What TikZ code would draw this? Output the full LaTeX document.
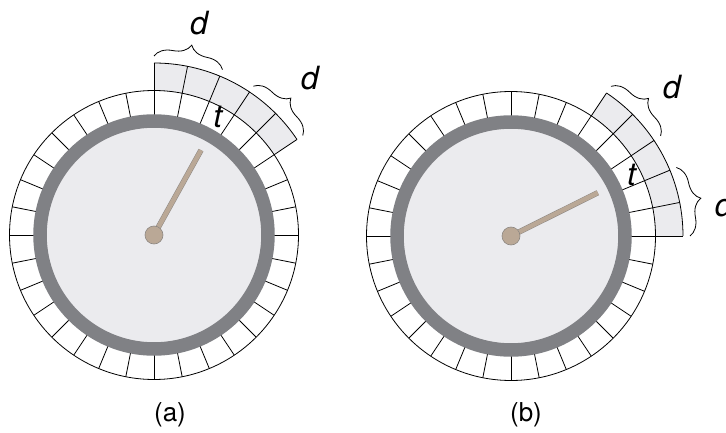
\documentclass[tikz,border=0pt]{standalone}
\usepackage{fontspec}
\setmainfont{TeX Gyre Heros}
\usetikzlibrary{decorations.pathreplacing}
\definecolor{facegray}{RGB}{235,235,238}
\definecolor{rimgray}{RGB}{128,129,133}
\definecolor{needletan}{RGB}{186,168,150}
\definecolor{needleedge}{RGB}{140,135,130}
\tikzset{
  cellline/.style={black, line width=0.8pt},
  rim/.style={rimgray, line width=13.5pt},
  needle/.style={draw=needleedge, line width=0.5pt, double=needletan, double distance=4.5pt},
  hub/.style={circle, fill=needletan, draw=needleedge, line width=0.6pt, minimum size=18pt, inner sep=0pt},
  bracebrace/.style={decorate, decoration={brace, amplitude=18pt}, line width=0.8pt},
  dlabel/.style={font=\fontsize{32}{36}\selectfont\itshape, inner sep=0pt},
  tlabel/.style={font=\fontsize{32}{36}\selectfont\itshape, inner sep=0pt},
  caption/.style={font=\fontsize{26}{30}\selectfont, inner sep=0pt}
}
\begin{document}
\begin{tikzpicture}[x=1pt, y=1pt]
  \useasboundingbox (0,0) rectangle (726,432);
  % dial (a)
  \begin{scope}[shift={(154,197)}]
    \fill[facegray] (0,0) circle (114);
    \fill[facegray] (90:144.5) arc (90:33.75:144.5) -- (33.75:172) arc (33.75:90:172) -- cycle;
    \foreach \i in {0,...,31}
      \draw[cellline] (\i*11.25:120) -- (\i*11.25:144.5);
    \foreach \i in {3,...,8}
      \draw[cellline] (\i*11.25:144.5) -- (\i*11.25:172);
    \draw[cellline] (0,0) circle (144.5);
    \draw[cellline] (90:172) arc (90:33.75:172);
    \draw[rim] (0,0) circle (114);
    \coordinate (centerA) at (0,0);
    \coordinate (tipA) at (61:97);
    \draw[needle] (centerA) -- (tipA);
    \node[hub] (hubA) at (centerA) {};
    \coordinate (braceA1s) at (90:179);
    \coordinate (braceA1e) at (67.5:179);
    \coordinate (braceA2s) at (56.25:179);
    \coordinate (braceA2e) at (33.75:179);
    \draw[bracebrace] (braceA1s) -- (braceA1e);
    \draw[bracebrace] (braceA2s) -- (braceA2e);
    \node[dlabel] (dA1) at (78:217) {d};
    \node[dlabel] (dA2) at (45.2:221) {d};
    \node[tlabel] (tA) at (61.5:134) {t};
  \end{scope}
  % dial (b)
  \begin{scope}[shift={(511,196)}]
    \fill[facegray] (0,0) circle (114);
    \fill[facegray] (56.25:144.5) arc (56.25:0:144.5) -- (0:172) arc (0:56.25:172) -- cycle;
    \foreach \i in {0,...,31}
      \draw[cellline] (\i*11.25:120) -- (\i*11.25:144.5);
    \foreach \i in {0,...,5}
      \draw[cellline] (\i*11.25:144.5) -- (\i*11.25:172);
    \draw[cellline] (0,0) circle (144.5);
    \draw[cellline] (56.25:172) arc (56.25:0:172);
    \draw[rim] (0,0) circle (114);
    \coordinate (centerB) at (0,0);
    \coordinate (tipB) at (26.5:97);
    \draw[needle] (centerB) -- (tipB);
    \node[hub] (hubB) at (centerB) {};
    \coordinate (braceB1s) at (56.25:180);
    \coordinate (braceB1e) at (33.75:180);
    \coordinate (braceB2s) at (22.5:179);
    \coordinate (braceB2e) at (0:179);
    \draw[bracebrace] (braceB1s) -- (braceB1e);
    \draw[bracebrace] (braceB2s) -- (braceB2e);
    \node[dlabel] (dB1) at (42.8:219) {d};
    \node[dlabel] (dB2) at (8.4:215) {d};
    \node[tlabel] (tB) at (26.8:135) {t};
  \end{scope}
  \node[caption] (capA) at (170,17) {(a)};
  \node[caption] (capB) at (526,17) {(b)};
\end{tikzpicture}
\end{document}
